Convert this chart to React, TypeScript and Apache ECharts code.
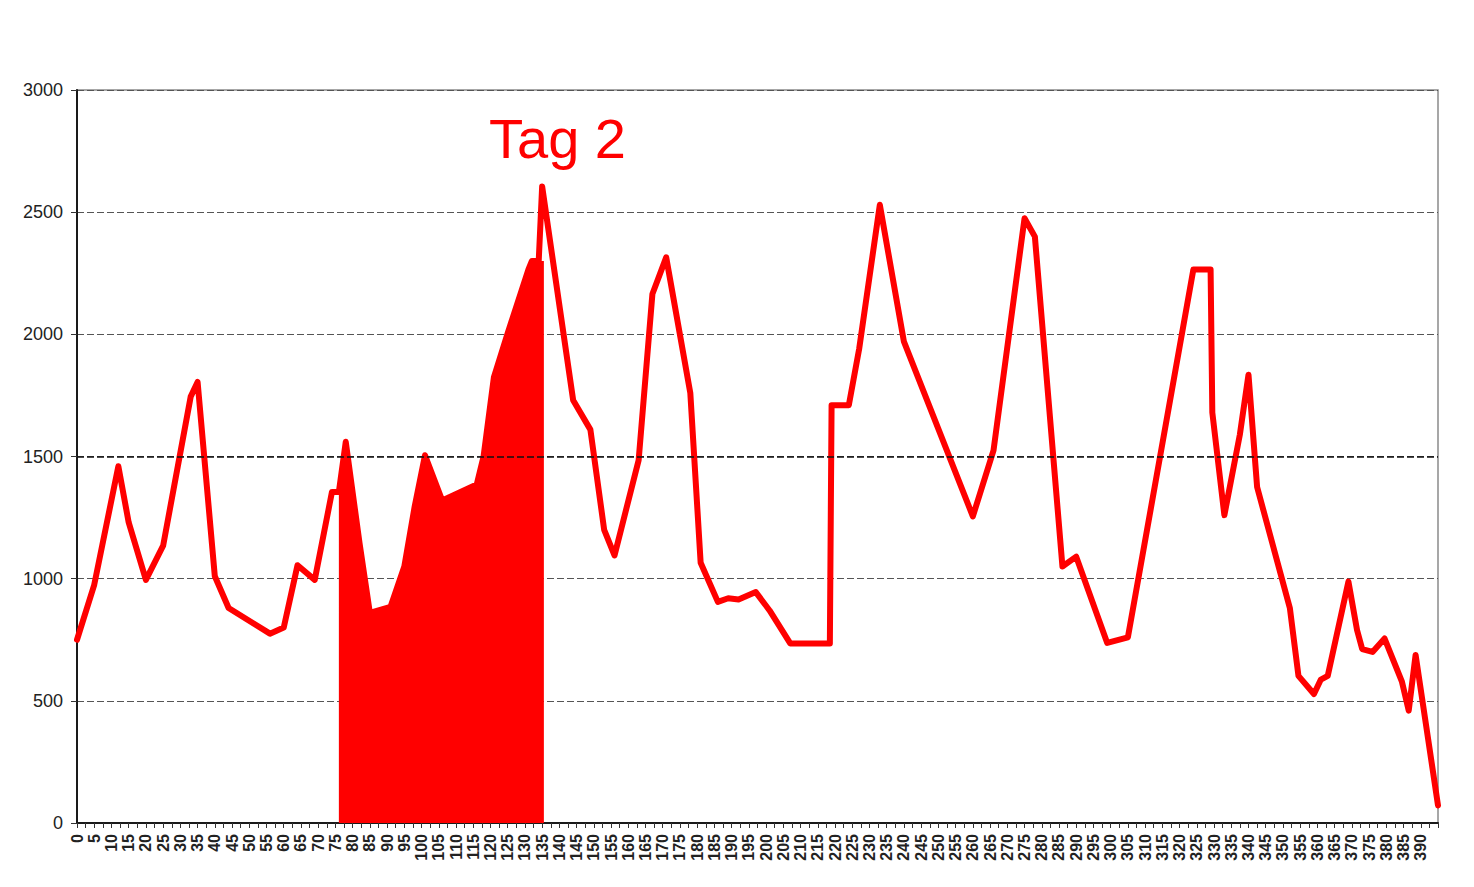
import React, { useEffect, useRef } from "react";
import * as echarts from "echarts";

// x positions (units along the axis) and values of the red line
const lineX = [0, 5, 12, 15, 20, 25, 33, 35, 40, 44, 56, 60, 64, 69, 74, 76, 78, 82, 85, 91, 95, 98, 101, 106, 116, 118, 121, 125, 131, 132, 134, 135, 144, 149, 153, 156, 163, 167, 171, 178, 181, 186, 189, 192, 197, 201, 207, 218.5, 219, 224, 227, 233, 240, 260, 266, 275, 278, 286, 290, 299, 305, 324, 329, 329.5, 333, 337.5, 340, 342.5, 352, 354.5, 359, 361, 363, 369, 371.5, 373, 376, 379.5, 384.5, 386.5, 388.5, 395];
const lineY = [750, 975, 1460, 1230, 995, 1135, 1745, 1805, 1010, 880, 775, 800, 1055, 995, 1355, 1355, 1560, 1145, 860, 885, 1050, 1295, 1505, 1320, 1385, 1500, 1825, 2005, 2265, 2300, 2300, 2605, 1730, 1610, 1200, 1095, 1485, 2165, 2315, 1760, 1065, 905, 920, 915, 945, 870, 735, 735, 1710, 1710, 1940, 2530, 1970, 1255, 1525, 2475, 2400, 1050, 1090, 737, 760, 2265, 2265, 1680, 1260, 1590, 1835, 1375, 880, 602, 528, 587, 602, 988, 790, 712, 700, 755, 580, 460, 688, 72];

// shaded section ("Tag 2")
const fillX = [76, 78, 82, 85, 91, 95, 98, 101, 106, 116, 118, 121, 125, 131, 132, 134, 135.5];
const fillY = [1355, 1560, 1145, 860, 885, 1050, 1295, 1505, 1320, 1385, 1500, 1825, 2005, 2265, 2300, 2300, 2300];

const annotation = "Tag 2";
const yTicks = [0, 500, 1000, 1500, 2000, 2500, 3000];
const darkGridValue = 1500;
const xMin = 0;
const xMax = 395;
const xStep = 5;

export default function App() {
  const ref = useRef<HTMLDivElement>(null);
  useEffect(() => {
    if (!ref.current) return;
    const chart = echarts.init(ref.current, null, { renderer: "svg" });
    const lineData = lineX.map((x, i) => [x, lineY[i]]);
    const fillData = fillX.map((x, i) => [x, fillY[i]]);
    chart.setOption({
      animation: false,
      backgroundColor: "#ffffff",
      grid: {
        left: 77,
        right: 36,
        top: 90,
        bottom: 64,
        show: true,
        borderColor: "#8a8a8a",
        borderWidth: 1.5,
        backgroundColor: "#ffffff",
      },
      xAxis: {
        type: "value",
        min: xMin,
        max: xMax,
        interval: xStep,
        splitLine: { show: false },
        axisLine: { show: true, onZero: false, lineStyle: { color: "#1a1a1a", width: 2 } },
        axisTick: { show: true, inside: false, length: 5, lineStyle: { color: "#333", width: 1 } },
        minorTick: { show: true, splitNumber: 2, length: 5, lineStyle: { color: "#333", width: 1 } },
        axisLabel: {
          rotate: 90,
          showMaxLabel: false,
          margin: 11,
          fontFamily: "Liberation Sans, Arial, sans-serif",
          fontSize: 16,
          fontWeight: "bold",
          color: "#222",
          formatter: (v: number) => String(v),
        },
      },
      yAxis: {
        type: "value",
        min: yTicks[0],
        max: yTicks[yTicks.length - 1],
        interval: 500,
        axisLine: { show: true, lineStyle: { color: "#1a1a1a", width: 2 } },
        axisTick: { show: true, length: 6, lineStyle: { color: "#333" } },
        axisLabel: {
          margin: 14,
          fontFamily: "Liberation Sans, Arial, sans-serif",
          fontSize: 18,
          color: "#222",
          formatter: (v: number) => String(v),
        },
        splitLine: {
          show: true,
          lineStyle: { color: "#555", type: [7, 3], width: 1 },
        },
      },
      series: [
        {
          type: "line",
          data: [],
          z: 1,
          silent: true,
          markLine: {
            symbol: "none",
            silent: true,
            label: { show: false },
            lineStyle: { color: "#111", type: [7, 3], width: 1.5 },
            data: [{ yAxis: darkGridValue }],
          },
        },
        {
          type: "line",
          data: fillData,
          symbol: "none",
          lineStyle: { width: 0 },
          areaStyle: { color: "#ff0000", opacity: 1 },
          z: 2,
        },
        {
          type: "line",
          data: lineData,
          symbol: "none",
          lineStyle: { color: "#ff0000", width: 6, join: "round", cap: "round" },
          z: 3,
        },
      ],
      graphic: [
        {
          type: "text",
          left: 489,
          top: 110,
          style: {
            text: annotation,
            fontFamily: "Liberation Sans, Arial, sans-serif",
            fontSize: 56,
            fill: "#ff0000",
          },
          z: 10,
        },
      ],
    });
    return () => chart.dispose();
  }, []);
  return (
    <div
      ref={ref}
      style={{ position: "fixed", left: 0, top: 0, width: 1474, height: 887 }}
    />
  );
}
